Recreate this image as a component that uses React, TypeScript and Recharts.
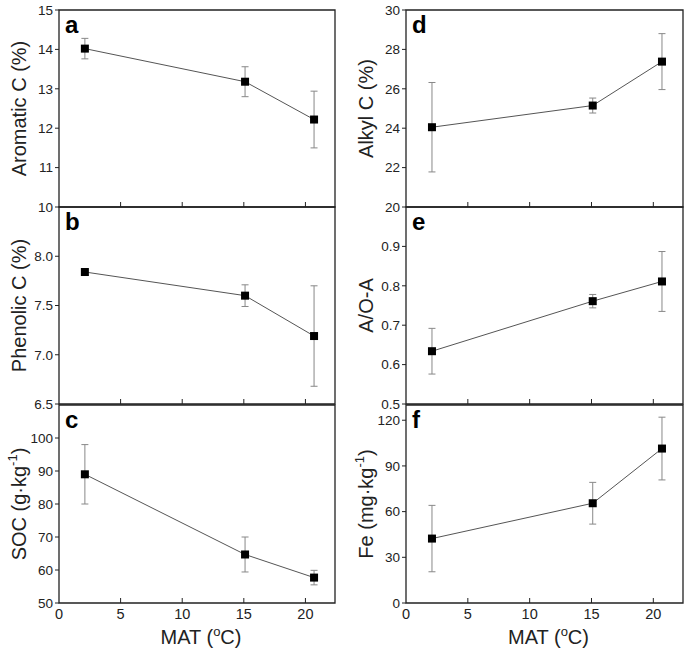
import React from 'react';
import { LineChart, Line, XAxis, YAxis, ErrorBar, ReferenceArea, Label } from 'recharts';

// MAT (°C) of the three sites
const mat = [2.1, 15.1, 20.7];

const aromatic = [14.02, 13.18, 12.22];
const aromaticErr = [0.26, 0.38, 0.72];
const phenolic = [7.84, 7.6, 7.19];
const phenolicErr = [0.03, 0.11, 0.51];
const soc = [89, 64.7, 57.7];
const socErr = [9, 5.3, 2.2];
const alkyl = [24.05, 25.15, 27.38];
const alkylErr = [2.27, 0.38, 1.42];
const aoa = [0.634, 0.761, 0.811];
const aoaErr = [0.058, 0.017, 0.076];
const fe = [42.3, 65.5, 101.4];
const feErr = [21.8, 13.7, 20.6];

const xTicks = [0, 5, 10, 15, 20];
const xDomain: [number, number] = [0, 22.4];

const FONT = '"Liberation Sans", Arial, sans-serif';
const INK = '#222';

const Square = (p: any) => {
  if (p.cx == null || p.cy == null) return null;
  return <rect key={p.index} x={p.cx - 4} y={p.cy - 4} width={8} height={8} fill="#000" />;
};

const makeXTick = (showLabel: boolean) => (p: any) => {
  const { x, y, payload } = p;
  return (
    <g>
      {payload.value > 0 && <line x1={x} x2={x} y1={y} y2={y - 5} stroke={INK} strokeWidth={1} />}
      {showLabel && (
        <text x={x} y={y + 16} textAnchor="middle" fontSize={14.5} fill={INK} fontFamily={FONT}>
          {payload.value}
        </text>
      )}
    </g>
  );
};

type Sup = { text: string; sup?: string; tail?: string };

const yLabel = (lab: Sup) => (p: any) => {
  const vb = p.viewBox || { x: 0, y: 0, width: 40, height: 200 };
  const cx = vb.x + vb.width - 40;
  const cy = vb.y + vb.height / 2;
  return (
    <text
      x={cx}
      y={cy}
      transform={`rotate(-90, ${cx}, ${cy})`}
      textAnchor="middle"
      dominantBaseline="central"
      fontSize={20}
      fill={INK}
      fontFamily={FONT}
    >
      {lab.text}
      {lab.sup && (
        <tspan dy={-7} fontSize={13}>
          {lab.sup}
        </tspan>
      )}
      {lab.tail && <tspan dy={7}>{lab.tail}</tspan>}
    </text>
  );
};

const xLabel = (p: any) => {
  const vb = p.viewBox || { x: 0, y: 0, width: 277, height: 45 };
  const cx = vb.x + vb.width / 2 + 4;
  return (
    <text x={cx} y={vb.y + 41} textAnchor="middle" fontSize={20} fill={INK} fontFamily={FONT}>
      MAT (
      <tspan dy={-8} fontSize={13}>
        o
      </tspan>
      <tspan dy={8}>C)</tspan>
    </text>
  );
};

const letterLabel = (letter: string) => (p: any) => {
  const vb = p.viewBox || { x: 0, y: 0 };
  return (
    <text x={vb.x + 6} y={vb.y + 23} fontSize={24} fontWeight="bold" fill="#000" fontFamily={FONT}>
      {letter}
    </text>
  );
};

type PanelProps = {
  left: number;
  top: number;
  row: 0 | 1 | 2;
  marginLeft: number;
  marginRight: number;
  values: number[];
  errs: number[];
  domain: [number, number];
  ticks: number[];
  digits: number;
  letter: string;
  label: Sup;
};

function Panel(props: PanelProps) {
  const { left, top, row, marginLeft, marginRight, values, errs, domain, ticks, digits, letter, label } = props;
  const data = mat.map((x, i) => ({ x, y: values[i], e: errs[i] }));
  const bottom = row === 2;
  const height = bottom ? 253 : 215;
  return (
    <div style={{ position: 'absolute', left, top }}>
      <LineChart
        width={340}
        height={height}
        data={data}
        margin={{ top: 10, right: marginRight, bottom: 0, left: marginLeft }}
      >
        <XAxis
          type="number"
          dataKey="x"
          domain={xDomain}
          ticks={xTicks}
          interval={0}
          allowDataOverflow
          axisLine={false}
          tickLine={false}
          tickSize={0}
          tickMargin={0}
          height={bottom ? 45 : 8}
          tick={makeXTick(bottom)}
        >
          {bottom && <Label content={xLabel} />}
        </XAxis>
        <YAxis
          type="number"
          domain={domain}
          ticks={ticks}
          interval={0}
          allowDataOverflow
          width={40}
          axisLine={false}
          tickLine={{ stroke: INK }}
          tickSize={4}
          tickMargin={2}
          tick={{ fontSize: 13.5, fill: INK, fontFamily: FONT }}
          tickFormatter={(v: number) => v.toFixed(digits)}
        >
          <Label content={yLabel(label)} />
        </YAxis>
        <ReferenceArea
          x1={xDomain[0]}
          x2={xDomain[1]}
          y1={domain[0]}
          y2={domain[1]}
          fill="none"
          fillOpacity={0}
          stroke={INK}
          strokeWidth={1.3}
          ifOverflow="visible"
          label={letterLabel(letter)}
        />
        <Line
          type="linear"
          dataKey="y"
          stroke="#555"
          strokeWidth={1}
          dot={Square}
          activeDot={false}
          isAnimationActive={false}
        >
          <ErrorBar dataKey="e" direction="y" width={3.5} stroke="#888" strokeWidth={1} />
        </Line>
      </LineChart>
    </div>
  );
}

export default function App() {
  const L = { left: 0, marginLeft: 19, marginRight: 5 };
  const R = { left: 345, marginLeft: 21, marginRight: 2 };
  return (
    <div
      style={{
        position: 'absolute',
        left: 0,
        top: 0,
        width: 685,
        height: 648,
        background: '#fff',
        fontFamily: FONT,
      }}
    >
      <Panel {...L} top={0} row={0} values={aromatic} errs={aromaticErr} domain={[10, 15]}
        ticks={[10, 11, 12, 13, 14, 15]} digits={0} letter="a" label={{ text: 'Aromatic C (%)' }} />
      <Panel {...L} top={197} row={1} values={phenolic} errs={phenolicErr} domain={[6.5, 8.5]}
        ticks={[6.5, 7.0, 7.5, 8.0]} digits={1} letter="b" label={{ text: 'Phenolic C (%)' }} />
      <Panel {...L} top={395} row={2} values={soc} errs={socErr} domain={[50, 110]}
        ticks={[50, 60, 70, 80, 90, 100]} digits={0} letter="c"
        label={{ text: 'SOC (g·kg', sup: '-1', tail: ')' }} />
      <Panel {...R} top={0} row={0} values={alkyl} errs={alkylErr} domain={[20, 30]}
        ticks={[20, 22, 24, 26, 28, 30]} digits={0} letter="d" label={{ text: 'Alkyl C (%)' }} />
      <Panel {...R} top={197} row={1} values={aoa} errs={aoaErr} domain={[0.5, 1.0]}
        ticks={[0.5, 0.6, 0.7, 0.8, 0.9]} digits={1} letter="e" label={{ text: 'A/O-A' }} />
      <Panel {...R} top={395} row={2} values={fe} errs={feErr} domain={[0, 130]}
        ticks={[0, 30, 60, 90, 120]} digits={0} letter="f"
        label={{ text: 'Fe (mg·kg', sup: '-1', tail: ')' }} />
    </div>
  );
}
